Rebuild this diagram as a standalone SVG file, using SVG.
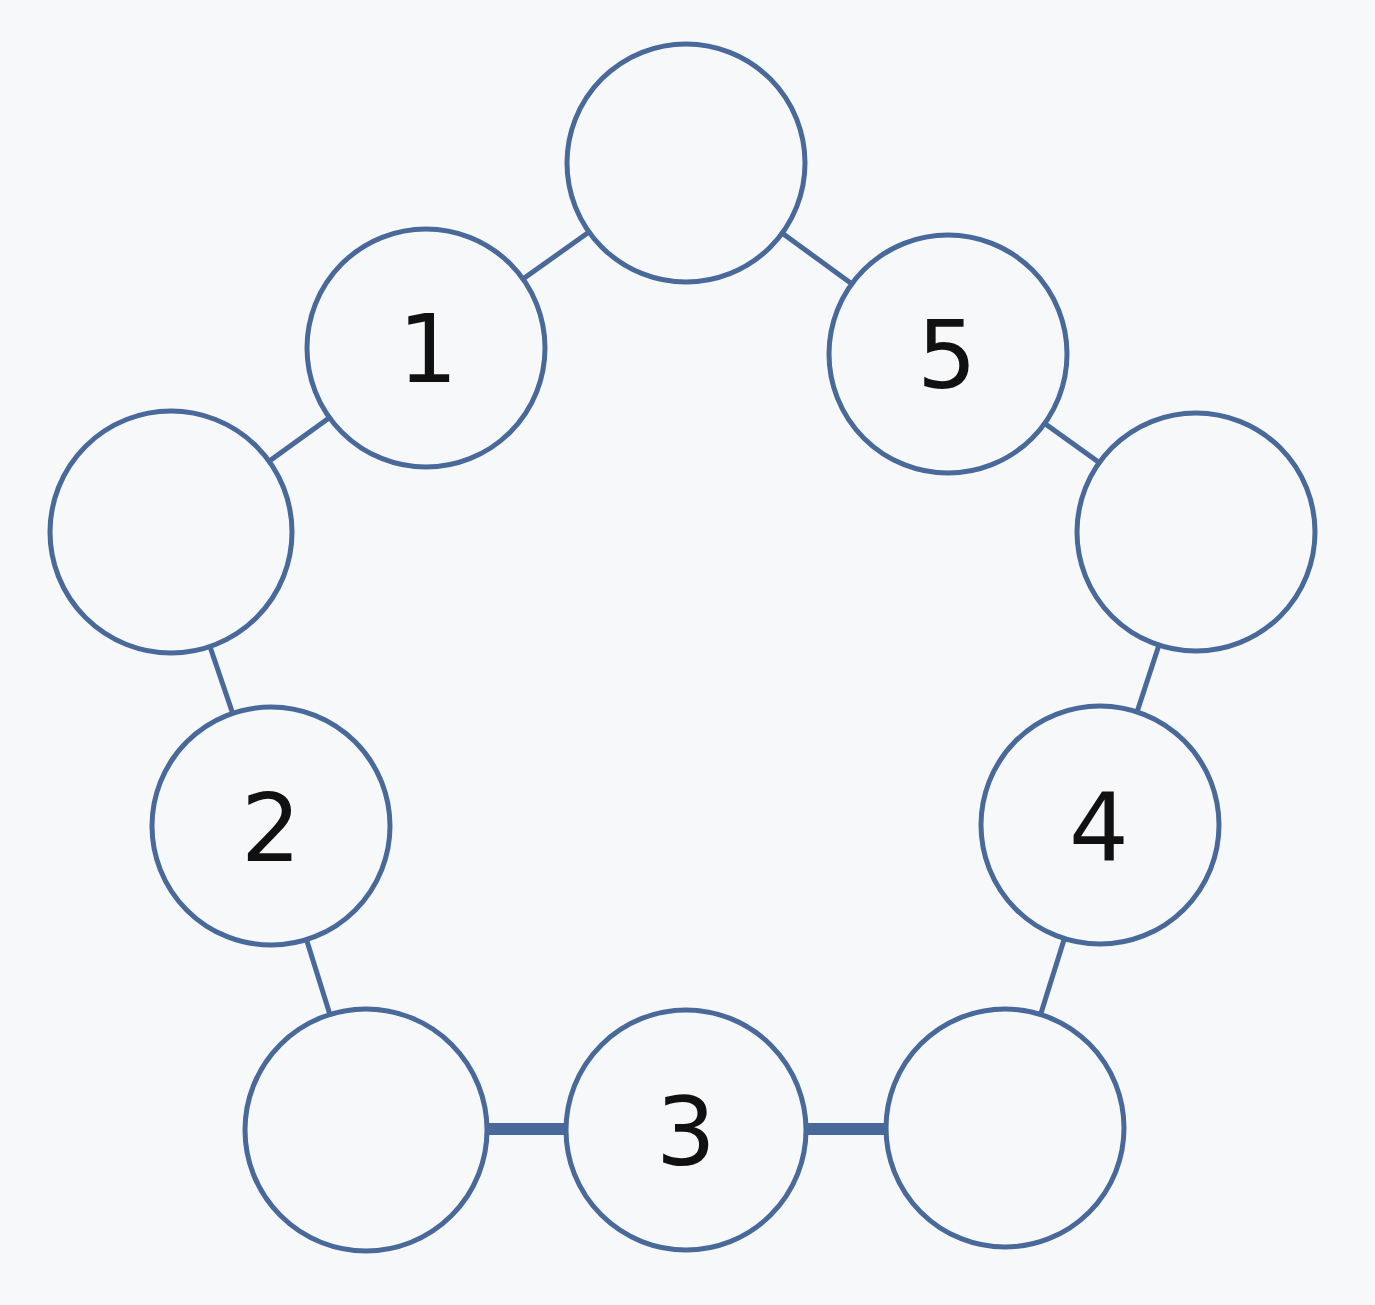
<svg xmlns="http://www.w3.org/2000/svg" width="1375" height="1305" viewBox="0 0 1375 1305">
<style>
.n{fill:#f6f8f9;stroke:#49699a;stroke-width:5}
.c{stroke:#49699a;stroke-width:5}
.t{font-family:"DejaVu Sans",sans-serif;font-size:94px;fill:#111;text-anchor:middle}
</style>
<rect width="1375" height="1305" fill="#f6f8f9"/>
<g id="connectors">
<line class="c" x1="686" y1="163" x2="426" y2="348"/>
<line class="c" x1="686" y1="163" x2="948" y2="354"/>
<line class="c" x1="426" y1="348" x2="171" y2="532"/>
<line class="c" x1="171" y1="532" x2="271" y2="826"/>
<line class="c" x1="271" y1="826" x2="366" y2="1130"/>
<line class="c" x1="366" y1="1129" x2="686" y2="1129" style="stroke-width:12"/>
<line class="c" x1="686" y1="1129" x2="1005" y2="1129" style="stroke-width:12"/>
<line class="c" x1="948" y1="354" x2="1196" y2="532"/>
<line class="c" x1="1196" y1="532" x2="1100" y2="825"/>
<line class="c" x1="1100" y1="825" x2="1005" y2="1128"/>
</g>
<g id="top"><circle class="n" cx="686" cy="163" r="119"/></g>
<g id="n1"><circle class="n" cx="426" cy="348" r="119"/><text class="t" x="428" y="382">1</text></g>
<g id="n5"><circle class="n" cx="948" cy="354" r="119"/><text class="t" x="947" y="388">5</text></g>
<g id="left"><circle class="n" cx="171" cy="532" r="121"/></g>
<g id="right"><circle class="n" cx="1196" cy="532" r="119"/></g>
<g id="n2"><circle class="n" cx="271" cy="826" r="119"/><text class="t" x="271" y="861">2</text></g>
<g id="n4"><circle class="n" cx="1100" cy="825" r="119"/><text class="t" x="1099" y="860">4</text></g>
<g id="bl"><circle class="n" cx="366" cy="1130" r="121"/></g>
<g id="n3"><circle class="n" cx="686" cy="1130" r="120"/><text class="t" x="686" y="1165">3</text></g>
<g id="br"><circle class="n" cx="1005" cy="1128" r="119"/></g>
</svg>
